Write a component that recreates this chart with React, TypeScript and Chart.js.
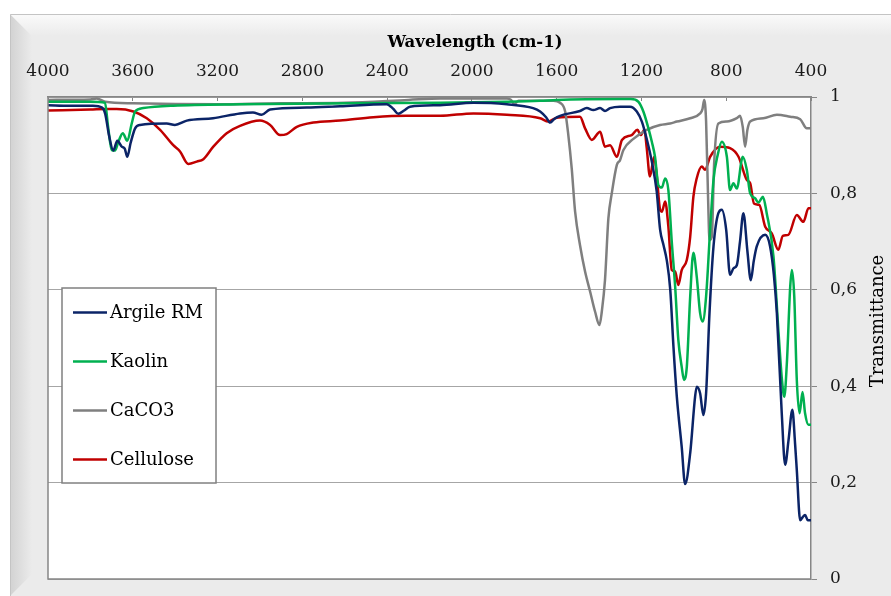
import React, { useEffect, useRef } from 'react';
import { Chart, registerables } from 'chart.js';

Chart.register(...registerables);

const FONT = '"DejaVu Serif", "Liberation Serif", serif';

const seriesNames = ['Argile RM', 'Kaolin', 'CaCO3', 'Cellulose'];
const seriesColors = ['#0b2467', '#00b050', '#7f7f7f', '#c00000'];

const xTitle = 'Wavelength (cm-1)';
const yTitle = 'Transmittance';

const argileWn = [4000,3900,3788,3745,3730,3712,3692,3673,3652,3638,3626,3610,3589,3566,3440,3401,3345,3221,3094,3033,2992,2952,2779,2622,2402,2370,2347,2320,2292,2150,1993,1835,1711,1678,1650,1631,1610,1584,1490,1458,1427,1395,1372,1348,1301,1254,1222,1198,1175,1151,1128,1112,1096,1080,1064,1049,1033,1010,994,970,947,939,923,908,895,879,860,837,821,800,782,765,750,735,719,700,684,670,656,616,593,575,561,538,522,506,488,475,467,451,440,428,415,400];
const argileT = [0.983,0.982,0.982,0.978,0.965,0.92,0.889,0.909,0.897,0.893,0.876,0.905,0.935,0.942,0.945,0.942,0.951,0.956,0.966,0.968,0.963,0.974,0.978,0.981,0.985,0.975,0.965,0.972,0.980,0.983,0.988,0.985,0.977,0.970,0.958,0.947,0.955,0.961,0.971,0.977,0.973,0.977,0.971,0.977,0.980,0.980,0.970,0.949,0.913,0.866,0.804,0.725,0.693,0.66,0.60,0.482,0.378,0.274,0.197,0.261,0.378,0.399,0.385,0.340,0.385,0.551,0.690,0.759,0.766,0.724,0.631,0.645,0.651,0.70,0.759,0.68,0.620,0.66,0.690,0.714,0.690,0.63,0.551,0.344,0.237,0.288,0.351,0.28,0.226,0.122,0.128,0.133,0.122,0.122];

const kaolinWn = [4000,3800,3731,3717,3699,3684,3668,3647,3626,3605,3589,3550,3409,3094,2150,1835,1678,1600,1300,1250,1214,1191,1167,1151,1136,1120,1104,1088,1073,1057,1041,1026,1010,999,986,970,955,939,923,911,895,876,860,840,821,797,782,766,750,722,703,687,664,648,627,609,577,554,537,526,514,498,490,479,467,454,440,428,412,400];
const kaolinT = [0.990,0.990,0.988,0.94,0.890,0.889,0.907,0.925,0.909,0.945,0.970,0.977,0.982,0.985,0.988,0.990,0.992,0.994,0.996,0.996,0.990,0.970,0.935,0.907,0.876,0.817,0.812,0.831,0.807,0.70,0.607,0.496,0.44,0.413,0.440,0.586,0.677,0.627,0.551,0.534,0.586,0.724,0.828,0.88,0.907,0.876,0.807,0.821,0.810,0.876,0.849,0.800,0.790,0.781,0.793,0.759,0.669,0.517,0.413,0.378,0.447,0.607,0.641,0.586,0.413,0.344,0.388,0.344,0.320,0.320];

const caco3Wn = [4000,3800,3770,3730,3600,3200,2900,2600,2300,2150,1835,1815,1800,1780,1650,1615,1584,1560,1545,1529,1513,1490,1466,1442,1419,1398,1387,1372,1356,1340,1316,1301,1285,1238,1175,1112,1065,1033,970,923,912,904,895,885,879,868,857,837,797,750,735,722,711,700,687,625,561,498,451,420,400];
const caco3T = [0.994,0.995,0.997,0.990,0.987,0.985,0.987,0.988,0.994,0.997,0.997,0.994,0.985,0.992,0.992,0.992,0.988,0.970,0.921,0.852,0.762,0.693,0.638,0.596,0.555,0.527,0.555,0.620,0.748,0.80,0.859,0.869,0.890,0.913,0.932,0.942,0.945,0.949,0.956,0.966,0.975,0.994,0.95,0.78,0.703,0.710,0.862,0.945,0.949,0.956,0.961,0.938,0.897,0.932,0.949,0.956,0.963,0.959,0.954,0.935,0.935];

const celluloseWn = [4000,3800,3723,3676,3597,3534,3471,3409,3377,3338,3298,3267,3220,3157,3094,3000,2952,2905,2874,2826,2748,2622,2465,2307,2150,1993,1835,1678,1639,1600,1490,1466,1434,1395,1372,1348,1316,1292,1246,1219,1203,1186,1175,1160,1140,1128,1112,1104,1088,1073,1057,1041,1026,1010,986,970,955,940,915,900,876,829,782,742,703,687,669,644,616,585,554,533,507,467,436,412,400];
const celluloseT = [0.972,0.974,0.975,0.975,0.970,0.956,0.932,0.900,0.887,0.861,0.866,0.871,0.897,0.925,0.940,0.951,0.942,0.921,0.923,0.938,0.947,0.951,0.958,0.961,0.961,0.966,0.963,0.956,0.949,0.957,0.959,0.935,0.911,0.928,0.897,0.900,0.876,0.911,0.921,0.932,0.921,0.932,0.894,0.835,0.876,0.838,0.766,0.762,0.783,0.731,0.641,0.638,0.610,0.641,0.662,0.710,0.793,0.830,0.856,0.849,0.876,0.897,0.894,0.876,0.828,0.821,0.779,0.776,0.731,0.717,0.683,0.712,0.714,0.755,0.741,0.769,0.769];

const xTicksStep = 400;
const yTicksStep = 0.2;

function pts(wn: number[], t: number[]) {
  return wn.map((w, i) => ({ x: w, y: t[i] }));
}

export default function App() {
  const ref = useRef<HTMLCanvasElement>(null);

  useEffect(() => {
    document.body.style.margin = '0';
    const canvas = ref.current!;
    const W = 891;
    const H = 596;

    const decor = {
      id: 'decor',
      beforeDraw(chart: any) {
        const c = chart.ctx;
        c.save();
        c.fillStyle = '#ffffff';
        c.fillRect(0, 0, W, H);
        const fx = 10, fy = 14;
        c.fillStyle = '#ebebeb';
        c.fillRect(fx, fy, W - fx, H - fy);
        let g = c.createLinearGradient(fx, 0, fx + 22, 0);
        g.addColorStop(0, '#d2d2d2');
        g.addColorStop(1, '#ebebeb');
        c.fillStyle = g;
        c.beginPath();
        c.moveTo(fx, fy);
        c.lineTo(fx + 22, fy + 22);
        c.lineTo(fx + 22, H - 22);
        c.lineTo(fx, H);
        c.closePath();
        c.fill();
        g = c.createLinearGradient(0, fy, 0, fy + 22);
        g.addColorStop(0, '#fafafa');
        g.addColorStop(1, '#ebebeb');
        c.fillStyle = g;
        c.beginPath();
        c.moveTo(fx, fy);
        c.lineTo(W, fy);
        c.lineTo(W, fy + 22);
        c.lineTo(fx + 22, fy + 22);
        c.closePath();
        c.fill();
        c.strokeStyle = '#c4c4c4';
        c.lineWidth = 1;
        c.beginPath();
        c.moveTo(fx + 0.5, H);
        c.lineTo(fx + 0.5, fy + 0.5);
        c.lineTo(W, fy + 0.5);
        c.stroke();
        const a = chart.chartArea;
        c.fillStyle = '#ffffff';
        c.fillRect(a.left, a.top, a.right - a.left, a.bottom - a.top);
        c.restore();
      },
      afterDraw(chart: any) {
        const c = chart.ctx;
        const a = chart.chartArea;
        c.save();
        c.strokeStyle = '#868686';
        c.lineWidth = 1.5;
        c.beginPath();
        c.moveTo(a.left, a.top);
        c.lineTo(a.left, a.bottom);
        c.lineTo(a.right, a.bottom);
        c.stroke();
        c.fillStyle = '#000';
        c.textAlign = 'center';
        c.textBaseline = 'middle';
        c.font = `bold 16.5px ${FONT}`;
        c.fillText(xTitle, 475, 43);
        c.save();
        c.translate(878, 321);
        c.rotate(-Math.PI / 2);
        c.font = `18px ${FONT}`;
        c.fillText(yTitle, 0, 0);
        c.restore();
        const lx = 62, ly = 288, lw = 154, lh = 195;
        c.fillStyle = '#ffffff';
        c.fillRect(lx, ly, lw, lh);
        c.strokeStyle = '#808080';
        c.lineWidth = 1.5;
        c.strokeRect(lx, ly, lw, lh);
        c.font = `18px ${FONT}`;
        c.textAlign = 'left';
        c.textBaseline = 'middle';
        chart.data.datasets.forEach((ds: any, i: number) => {
          const y = 312.5 + i * 49;
          c.strokeStyle = ds.borderColor;
          c.lineWidth = 2.5;
          c.beginPath();
          c.moveTo(73, y);
          c.lineTo(107, y);
          c.stroke();
          c.fillStyle = '#000';
          c.fillText(ds.label, 110, y + 1);
        });
        c.restore();
      },
    };

    const allWn = [argileWn, kaolinWn, caco3Wn, celluloseWn];
    const allT = [argileT, kaolinT, caco3T, celluloseT];

    const chart = new Chart(canvas, {
      type: 'line',
      data: {
        datasets: seriesNames.map((name, i) => ({
          label: name,
          data: pts(allWn[i], allT[i]),
          borderColor: seriesColors[i],
          backgroundColor: seriesColors[i],
          borderWidth: 2.5,
          pointRadius: 0,
          fill: false,
          cubicInterpolationMode: 'monotone' as const,
        })),
      },
      options: {
        responsive: false,
        animation: false,
        devicePixelRatio: 1,
        layout: { padding: { left: 48, top: 0, right: 0, bottom: 17 } },
        plugins: {
          legend: { display: false },
          tooltip: { enabled: false },
          title: { display: false },
        },
        scales: {
          x: {
            type: 'linear',
            position: 'top',
            reverse: true,
            min: 400,
            max: 4000,
            afterFit: (s: any) => {
              s.height = 97;
              s.paddingLeft = 0;
              s.paddingRight = 0;
            },
            ticks: {
              stepSize: xTicksStep,
              padding: 19,
              maxRotation: 0,
              color: '#1a1a1a',
              font: { family: FONT, size: 17 },
              callback: (v: any) => String(Math.round(Number(v))),
            },
            grid: {
              drawOnChartArea: false,
              tickLength: -4,
              color: '#868686',
              lineWidth: 1,
            },
            border: { display: true, color: '#868686', width: 1.5 },
          },
          y: {
            type: 'linear',
            position: 'right',
            min: 0,
            max: 1,
            afterFit: (s: any) => {
              s.width = 80;
              s.paddingTop = 0;
              s.paddingBottom = 0;
            },
            ticks: {
              stepSize: yTicksStep,
              padding: 13,
              color: '#1a1a1a',
              font: { family: FONT, size: 17 },
              callback: (v: any) => {
                const n = Number(v);
                if (n === 0) return '0';
                if (n === 1) return '1';
                return n.toFixed(1).replace('.', ',');
              },
            },
            grid: {
              color: '#a6a6a6',
              lineWidth: 1,
              tickLength: 6,
              tickColor: '#868686',
            },
            border: { display: true, color: '#868686', width: 1.5 },
          },
        },
      },
      plugins: [decor],
    });

    return () => chart.destroy();
  }, []);

  return <canvas ref={ref} width={891} height={596} style={{ display: 'block', width: 891, height: 596 }} />;
}
